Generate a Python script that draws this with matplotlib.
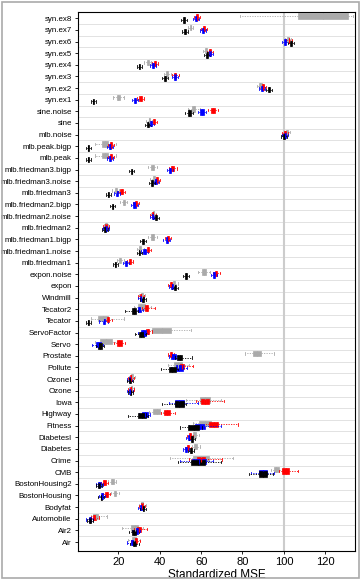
import matplotlib
matplotlib.use("Agg")
import matplotlib.pyplot as plt
from matplotlib.patches import Rectangle

plt.rcParams['font.family'] = ['Liberation Sans', 'DejaVu Sans']

# categories, top to bottom
names = ["syn.ex8", "syn.ex7", "syn.ex6", "syn.ex5", "syn.ex4", "syn.ex3", "syn.ex2", "syn.ex1",
         "sine.noise", "sine", "mlb.noise", "mlb.peak.bigp", "mlb.peak", "mlb.friedman3.bigp",
         "mlb.friedman3.noise", "mlb.friedman3", "mlb.friedman2.bigp", "mlb.friedman2.noise",
         "mlb.friedman2", "mlb.friedman1.bigp", "mlb.friedman1.noise", "mlb.friedman1",
         "expon.noise", "expon", "Windmill", "Tecator2", "Tecator", "ServoFactor", "Servo",
         "Prostate", "Pollute", "OzoneI", "Ozone", "Iowa", "Highway", "Fitness", "DiabetesI",
         "Diabetes", "Crime", "CMB", "BostonHousing2", "BostonHousing", "Bodyfat", "Automobile",
         "Air2", "Air"]

# medians
gray_med = [119, 55, 102, 62.3, 34.2, 43.7, 88.7, 20, 56.5, 35, 101.6, 13.5, 13.5, 36.6, 37.2, 18.7,
            22.6, 37, 14, 36.6, 30.6, 21, 61.5, 47.1, 31.4, 31.1, 12.5, 41, 14, 87, 49, 26.6, 26.4,
            62, 38.5, 62, 56.7, 57.2, 60, 96.3, 17, 18.4, 31.6, 9, 28, 27.5]
red_med = [58.2, 61.3, 102.3, 64.4, 37.7, 47.6, 90, 30.8, 65.9, 37.2, 100.6, 16.5, 16.5, 46.1, 38.7,
           21.6, 28.7, 36.8, 14.1, 44, 34.3, 25.6, 67.3, 45.6, 30.8, 33.7, 15, 34.2, 20.5, 45.4,
           50.6, 26, 26, 62, 43.5, 66, 54.8, 53.5, 60, 100.8, 13.3, 14.4, 31.3, 8.4, 30, 28.4]
blue_med = [57.7, 61.1, 100.5, 64.3, 36.6, 47.4, 89.5, 28.1, 60.4, 35.6, 100.4, 16, 16, 45, 38, 19.4,
            27.7, 36.6, 13.9, 43.3, 32.7, 23.7, 66.2, 46, 31.1, 30.2, 13, 32.2, 10.4, 46.6, 49.5,
            25.4, 25.6, 49.5, 33, 59.5, 54.1, 52.7, 59, 90, 10.9, 12, 31, 6.2, 28.9, 26.8]
black_med = [51.7, 52.2, 103.4, 62.8, 30.2, 42.7, 92.9, 8, 54.3, 34.5, 100.2, 5.5, 5.5, 26.4, 36.4,
             15.2, 17.3, 38.2, 13.6, 31.8, 30.2, 18.6, 52.8, 47.4, 31.8, 27.6, 5.5, 31.1, 11.2,
             49.6, 46.1, 25.6, 25.9, 49.5, 31.5, 56.5, 55.6, 55, 58.5, 90, 10.7, 11.8, 32.1, 6.3,
             27.7, 27.7]

# interquartile ranges
gray_iqr = [24, 0.6, 0.8, 0.8, 1, 1, 1.2, 1.5, 1.5, 0.8, 0.8, 3, 3, 1.2, 1.0, 1, 1, 0.8, 0.6, 1.2, 1,
            1, 2, 1, 0.8, 3.5, 5, 9, 5.5, 3.6, 4, 0.8, 0.8, 4.8, 3.6, 5.6, 1.2, 1.4, 8, 2.2, 1.4,
            1.4, 1, 2.4, 3.3, 2]
red_iqr = [1, 1, 0.8, 1, 1, 1, 1, 1.2, 2, 1, 0.8, 1, 1, 1.2, 1.2, 1.2, 1, 0.8, 0.8, 1, 1.2, 1, 1.2,
           1, 0.8, 1.6, 1.2, 1.6, 2.4, 1.2, 1.8, 0.8, 0.8, 4, 2.6, 4, 1, 1, 4, 3.2, 1.2, 1.2, 1,
           1.4, 1.6, 1.2]
blue_iqr = [1, 1, 0.8, 1, 1, 1, 1, 1.2, 1.8, 1, 0.8, 1, 1, 1.2, 1.2, 1.2, 1.2, 0.8, 0.8, 1, 1.2, 1,
            1.2, 1, 0.8, 1.8, 1.2, 2.4, 2.8, 2.2, 3.7, 0.8, 0.8, 4, 2.9, 4.5, 1, 1, 6.5, 3.9, 1, 1,
            1, 1.2, 1.6, 1.2]
black_iqr = [0.8, 0.8, 0.8, 0.8, 0.8, 0.8, 0.8, 0.6, 1.6, 1, 0.8, 0.5, 0.5, 0.8, 0.8, 0.6, 0.6, 0.8,
             0.6, 0.8, 0.8, 0.6, 0.8, 1, 0.8, 1.8, 0.6, 2.2, 1.6, 2.4, 3.4, 0.6, 0.6, 4.5, 3.7,
             5.4, 1, 1, 6.3, 3.9, 0.8, 0.8, 0.8, 0.8, 1.8, 1.4]

# whisker reach beyond box (left / right)
gray_wlo = [28, 0.8, 1, 1, 1.2, 1.2, 1.2, 2, 2, 1, 1, 3.5, 3.5, 1.5, 1.2, 1.2, 1.2, 1, 0.8, 1.5,
            1.2, 1.2, 2, 1.2, 1, 2, 3, 2, 2.5, 4, 3, 1, 1, 7, 2, 3, 1, 1, 11, 1.5, 1.2, 1.2, 1.2,
            1.2, 4.8, 2]
gray_whi = [2.5, 0.8, 1, 1, 1.2, 1.2, 1.2, 2, 2, 1, 1, 3.8, 3.8, 1.5, 1.2, 1.2, 1.2, 1, 0.8, 1.5,
            1.2, 1.2, 2, 1.2, 1, 3, 7.7, 9.6, 2.5, 6.3, 3, 1, 1, 5.2, 2, 3, 1.5, 1.5, 11.2, 1.5,
            1.2, 1.2, 1.2, 4.4, 2.4, 2]
red_wlo = [1, 1, 1, 1, 1, 1, 1, 1, 1.5, 1, 1, 1, 1, 1, 1, 1, 1, 1, 1, 1, 1, 1, 1, 1, 1, 1.5, 1.5,
           1.5, 1.5, 1, 1.5, 1, 1, 2.5, 1.5, 2, 1, 1, 4, 1.5, 1, 1, 1, 1, 1.5, 1.5]
red_whi = [1, 1, 1, 1, 1, 1, 1, 1, 1.5, 1, 1, 1, 1, 1.5, 1, 1, 1, 1, 1, 1, 1, 1, 1, 1, 1, 3, 1.5,
           1.5, 1.5, 1, 4.6, 1, 1, 7, 2.8, 9.6, 1, 1, 8, 4.6, 1, 1, 1, 1.5, 3, 1.5]
blue_wlo = [1, 1, 1, 1, 1, 1, 1, 1, 1, 1, 1, 1, 1, 1, 1, 1, 1, 1, 1, 1, 1, 1, 1, 1, 1, 1.5, 1.5,
            1.5, 1.5, 1, 2, 1, 1, 3, 1.5, 3, 1, 1, 6, 4, 1, 1, 1, 1, 1.5, 2]
blue_whi = [1, 1, 1, 1, 1, 1, 1, 1, 1, 1, 1, 1, 1, 1, 1, 1, 1, 1, 1, 1, 1, 1, 1, 1, 1, 1, 1.5, 1,
            1, 1, 2, 1, 1, 7, 1, 8, 1, 1, 3.5, 3.4, 1, 1, 1, 1, 1, 1]
black_wlo = [1, 1, 1, 1, 1, 1, 1, 1, 1.5, 1, 1, 1, 1, 1, 1, 1, 1, 1, 1, 1, 1, 1, 1, 1, 1, 3.5, 1,
             2, 1, 1, 4, 1, 1, 6, 5, 4, 1, 1, 6.5, 5, 1, 1, 1, 1, 1.5, 1.5]
black_whi = [1, 1, 1, 1, 1, 1, 1, 1, 1, 1, 1, 1, 1, 1, 1, 1, 1, 1, 1, 1, 1, 1, 1, 1, 1, 1, 1, 1, 1,
             4.6, 1, 1, 1, 1, 1, 1, 1, 1, 8, 3, 1, 1, 1, 1, 1.5, 1.5]

methods = [
    ("#AAAAAA", gray_med, gray_iqr, gray_wlo, gray_whi, 0.2),
    ("#FF0000", red_med, red_iqr, red_wlo, red_whi, 0.1),
    ("#0000FF", blue_med, blue_iqr, blue_wlo, blue_whi, -0.05),
    ("#000000", black_med, black_iqr, black_wlo, black_whi, -0.15),
]

n = len(names)
pos = [n - i for i in range(n)]

fig = plt.figure(figsize=(3.61, 5.80), dpi=100)
ax = fig.add_axes([0.216, 0.05, 0.767, 0.929])

for y in range(1, n):
    ax.axhline(y + 0.5, color="#dddddd", lw=0.6, zorder=0)
ax.axvline(100, color="#cccccc", lw=1.5, zorder=0)

for col, med, iqr, wlo, whi, off in methods:
    stats = []
    for i in range(n):
        q1 = med[i] - iqr[i] / 2
        q3 = med[i] + iqr[i] / 2
        stats.append(dict(med=med[i], q1=q1, q3=q3, whislo=q1 - wlo[i], whishi=q3 + whi[i]))
    ax.bxp(stats, positions=[p + off for p in pos], widths=0.45, orientation="horizontal",
           patch_artist=True, showfliers=False,
           boxprops=dict(facecolor=col, edgecolor=col, lw=0.5),
           medianprops=dict(color=col, lw=0.8),
           whiskerprops=dict(color=col, lw=0.6, ls=(0, (1.5, 1.5))),
           capprops=dict(color=col, lw=0.6), capwidths=0.2, manage_ticks=False)

ax.set_xlim(0.5, 134.3)
ax.set_ylim(0.23, 46.52)
ax.set_yticks(pos)
ax.set_yticklabels(names, fontsize=5.7)
ax.set_xticks([20, 40, 60, 80, 100, 120])
ax.tick_params(axis="x", labelsize=8, length=2.5, width=0.6, pad=1.5)
ax.tick_params(axis="y", length=2.5, width=0.6, pad=2)
ax.set_xlabel("Standardized MSE", fontsize=8.5, labelpad=2)
for s in ax.spines.values():
    s.set_linewidth(0.8)

fig.patches.append(Rectangle((0.006, 0.004), 0.988, 0.992, transform=fig.transFigure,
                             fill=False, edgecolor="#aaaaaa", lw=1.2))

fig.savefig("out.png", dpi=100)
